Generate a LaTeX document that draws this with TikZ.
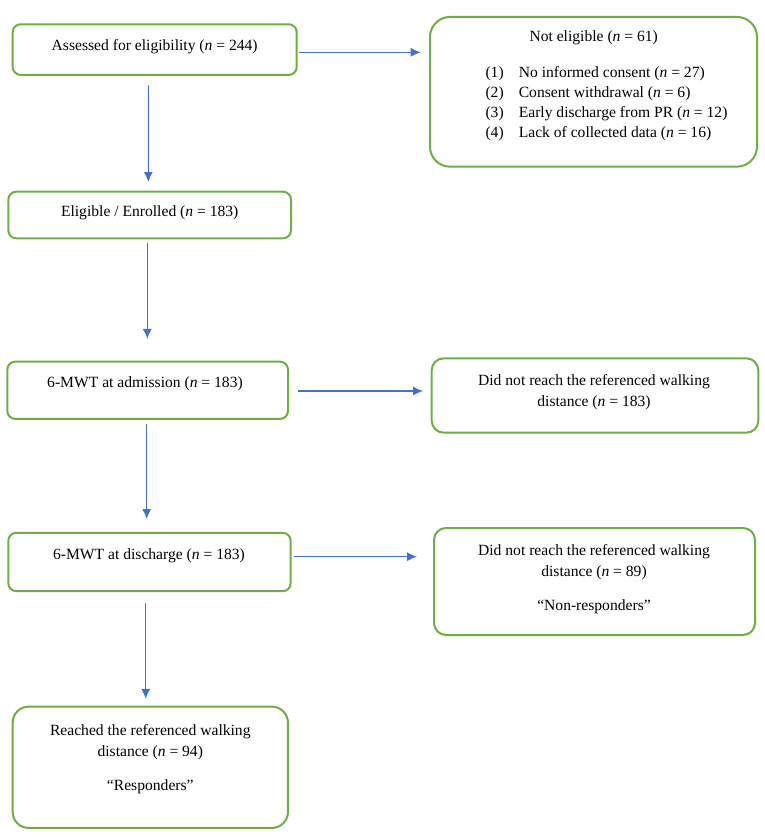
\documentclass[tikz,border=0pt]{standalone}
\usepackage{fontspec}
\setmainfont{Liberation Serif}
\usetikzlibrary{calc,arrows.meta,positioning}
\definecolor{boxgreen}{RGB}{112,173,71}
\definecolor{arrowblue}{RGB}{68,114,196}

\begin{document}
\begin{tikzpicture}[x=1pt,y=-1pt,>={Latex[length=10pt,width=9pt]},line width=1pt,
  font={\fontsize{15.6}{21}\selectfont},
  box/.style={draw=boxgreen,line width=2pt,rounded corners=8pt,inner sep=0pt},
  txt/.style={inner sep=0pt,align=center},
  flow/.style={->,draw=arrowblue,fill=arrowblue,line width=1.1pt}]
\useasboundingbox (0,0) rectangle (765,838);

% left column
\node[box,minimum width=284pt,minimum height=50.7pt] (assessbox) at (154.7,49.6) {};
\node[txt] (assess) at (154.7,46.7) {Assessed for eligibility (\textit{n} = 244)};
\node[box,minimum width=282.7pt,minimum height=46.6pt] (eligbox) at (149.65,215) {};
\node[txt] (elig) at (149.7,212.7) {Eligible / Enrolled (\textit{n} = 183)};
\node[box,minimum width=280.7pt,minimum height=57.3pt] (admitbox) at (147.65,390.3) {};
\node[txt] (admit) at (145,383.3) {6-MWT at admission (\textit{n} = 183)};
\node[box,minimum width=282.4pt,minimum height=58.3pt] (dischbox) at (149.5,562) {};
\node[txt] (disch) at (149,556) {6-MWT at discharge (\textit{n} = 183)};
\node[box,rounded corners=16pt,minimum width=275.3pt,minimum height=121.3pt] (respbox) at (150.3,767.3) {};
\node[txt] (reach) at (150.3,742.5) {Reached the referenced walking\\distance (\textit{n} = 94)};
\node[txt] (resp) at (150.3,787) {``Responders''};

% right column
\node[box,rounded corners=20pt,minimum width=327pt,minimum height=149.7pt] (notbox) at (593.5,91.8) {};
\node[txt] (noteli) at (593.7,37.7) {Not eligible (\textit{n} = 61)};
\foreach \i/\reason in {1/No informed consent (\textit{n} = 27),2/Consent withdrawal (\textit{n} = 6),3/Early discharge from PR (\textit{n} = 12),4/Lack of collected data (\textit{n} = 16)}{
  \node[txt,anchor=west] (num\i) at (485,53.3+20*\i) {(\i)};
  \node[txt,anchor=west] (reason\i) at (518.3,53.3+20*\i) {\reason};
}
\node[box,rounded corners=12pt,minimum width=326.6pt,minimum height=74.4pt] (nowalkbox) at (595,395.5) {};
\node[txt] (nowalk) at (594,392.2) {Did not reach the referenced walking\\distance (\textit{n} = 183)};
\node[box,rounded corners=12pt,minimum width=321pt,minimum height=107pt] (nonrespbox) at (594.5,581.5) {};
\node[txt] (nonreach) at (594,562.5) {Did not reach the referenced walking\\distance (\textit{n} = 89)};
\node[txt] (nonresp) at (594,607) {``Non-responders''};

% connectors
\begin{scope}[flow]
\draw ($(assessbox.south)+(-6.4,9.3)$) -- ($(eligbox.north)+(-1.35,-8.7)$);
\draw ($(eligbox.south)+(-2.35,3.4)$) -- ($(admitbox.north)+(-0.35,-21.7)$);
\draw ($(admitbox.south)+(-0.95,3.7)$) -- ($(dischbox.north)+(-2.8,-12.8)$);
\draw ($(dischbox.south)+(-3.8,10.6)$) -- ($(respbox.north)+(-4.6,-6.7)$);
\draw ($(assessbox.east)+(1,2.7)$) -- ($(notbox.west |- assessbox.east)+(-8.3,2.7)$);
\draw ($(admitbox.east)+(9.3,0.7)$) -- ($(nowalkbox.west |- admitbox.east)+(-7.7,0.7)$);
\draw ($(dischbox.east)+(2,-5.3)$) -- ($(nonrespbox.west |- dischbox.east)+(-16,-5.3)$);
\end{scope}
\end{tikzpicture}
\end{document}
